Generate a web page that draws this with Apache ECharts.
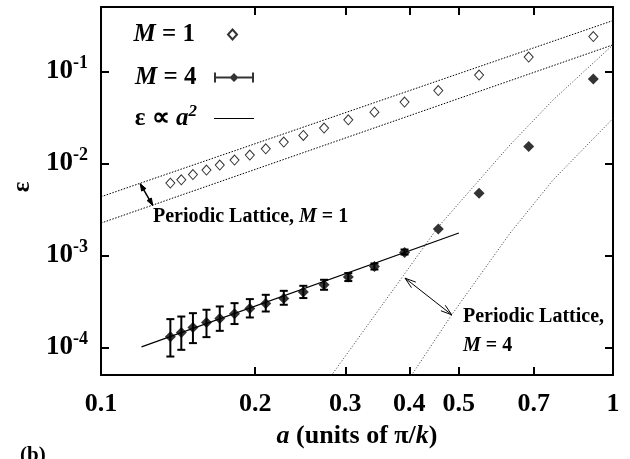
<!DOCTYPE html>
<html><head><meta charset="utf-8">
<script src="https://cdn.jsdelivr.net/npm/echarts@6/dist/echarts.min.js"></script>
<style>html,body{margin:0;padding:0;background:#fff}#c{width:630px;height:459px}</style>
</head><body><div id="c"></div>
<script>
// ---- data ----
const aValues = [0.1366,0.1435,0.1512,0.1607,0.1706,0.1823,0.1953,0.2098,0.2275,0.2484,0.2727,0.3041,0.3420,0.3916,0.4558,0.5476,0.6844,0.9153];
const epsM1 = [0.00609,0.00662,0.00755,0.00844,0.00956,0.01083,0.01228,0.01438,0.0170,0.02006,0.02415,0.0297,0.0360,0.0463,0.0618,0.0909,0.1427,0.2388];
const epsM4 = [1.30e-4,1.448e-4,1.641e-4,1.861e-4,2.056e-4,2.312e-4,2.64e-4,2.99e-4,3.39e-4,3.98e-4,4.78e-4,5.80e-4,7.55e-4,1.072e-3,1.927e-3,4.74e-3,1.522e-2,8.23e-2];
const epsM4Low = [7.94e-5,9.39e-5,1.111e-4,1.29e-4,1.51e-4,1.79e-4,2.11e-4,2.45e-4,2.90e-4,3.43e-4,4.22e-4,5.25e-4,7.01e-4,1.02e-3,1.927e-3,4.74e-3,1.522e-2,8.23e-2];
const epsM4High = [2.025e-4,2.16e-4,2.35e-4,2.56e-4,2.78e-4,3.02e-4,3.34e-4,3.72e-4,4.11e-4,4.66e-4,5.42e-4,6.41e-4,8.15e-4,1.156e-3,1.927e-3,4.74e-3,1.522e-2,8.23e-2];
const fitA = [0.12, 0.5];
const fitEps = [1.01e-4, 1.75e-3];
const latM1UpperA = [0.1, 1];
const latM1UpperEps = [4.33e-3, 0.356];
const latM1LowerA = [0.1, 1];
const latM1LowerEps = [2.24e-3, 0.194];
const latM4AA = [0.2815, 0.3893, 0.4558, 0.6295, 0.7643, 1.0];
const latM4AEps = [4.9e-5, 5.99e-4, 2.04e-3, 1.589e-2, 4.9e-2, 0.194];
const latM4BA = [0.4035, 0.4842, 0.6295, 0.7643, 1.0];
const latM4BEps = [4.9e-5, 2.256e-4, 1.743e-3, 6.62e-3, 0.0307];
const arrowM1 = [0.1193, 5.99e-3, 0.1262, 3.49e-3];
const arrowM4 = [0.3924, 5.65e-4, 0.4842, 2.256e-4];
const xTicks = [0.1, 0.2, 0.3, 0.4, 0.5, 0.7, 1];
const yTicks = [1e-4, 1e-3, 1e-2, 1e-1];
const xRange = [0.1, 1];
const yRange = [5e-5, 0.5];

const FONT = 'Liberation Serif';
const zip = (xs, ys) => xs.map((x, i) => [x, ys[i]]);

function renderErr(params, api) {
  const a = api.value(0), lo = api.value(1), hi = api.value(2);
  if (lo === hi) return null;
  const p1 = api.coord([a, lo]), p2 = api.coord([a, hi]);
  const hw = 4, st = {stroke: '#000', lineWidth: 2};
  return {type: 'group', children: [
    {type: 'line', shape: {x1: p1[0], y1: p1[1], x2: p2[0], y2: p2[1]}, style: st},
    {type: 'line', shape: {x1: p1[0]-hw, y1: p1[1], x2: p1[0]+hw, y2: p1[1]}, style: st},
    {type: 'line', shape: {x1: p2[0]-hw, y1: p2[1], x2: p2[0]+hw, y2: p2[1]}, style: st}
  ]};
}
function makeArrow(filled) {
  return function (params, api) {
    const p1 = api.coord([api.value(0), api.value(1)]);
    const p2 = api.coord([api.value(2), api.value(3)]);
    const head = (tip, from) => {
      const dx = from[0]-tip[0], dy = from[1]-tip[1], L = Math.hypot(dx, dy);
      const ux = dx/L, uy = dy/L, hl = filled ? 7 : 11, hw = filled ? 2.5 : 3.5;
      return [[tip[0]+ux*hl-uy*hw, tip[1]+uy*hl+ux*hw], tip, [tip[0]+ux*hl+uy*hw, tip[1]+uy*hl-ux*hw]];
    };
    const hs = filled ? {fill: '#000', stroke: '#000', lineWidth: 1} : {fill: null, stroke: '#000', lineWidth: 1};
    const t = filled ? 'polygon' : 'polyline';
    return {type: 'group', children: [
      {type: 'line', shape: {x1: p1[0], y1: p1[1], x2: p2[0], y2: p2[1]}, style: {stroke: '#000', lineWidth: filled ? 1.5 : 1}},
      {type: t, shape: {points: head(p1, p2)}, style: hs},
      {type: t, shape: {points: head(p2, p1)}, style: hs}
    ]};
  };
}

const chart = echarts.init(document.getElementById('c'), null, {renderer: 'canvas'});
const axisCommon = {
  axisLine: {show: true, lineStyle: {color: '#000', width: 2}},
  axisTick: {show: true, inside: true, length: 8, lineStyle: {color: '#000', width: 2}},
  splitLine: {show: false}
};
const LF = 25;
const legendText = {
  fontFamily: FONT, fontSize: LF, fontWeight: 'bold', color: '#000',
  rich: {
    i: {fontFamily: FONT, fontSize: LF, fontWeight: 'bold', fontStyle: 'italic', color: '#000'},
    n: {fontFamily: FONT, fontSize: LF, fontWeight: 'bold', color: '#000'},
    sup: {fontFamily: FONT, fontSize: 17, fontWeight: 'bold', fontStyle: 'italic', color: '#000', padding: [0, 0, 14, 0]},
    sp: {width: 12},
    sp2: {width: 28}
  }
};
const legendFmt = {
  'M = 1': '{i|M}{n| = 1}{sp2|}',
  'M = 4': '{i|M}{n| = 4}{sp|}',
  'fit': '{n|ε ∝ }{i|a}{sup|2}{sp|}'
};
function mkLegend(name, icon, w, h, top, right) {
  return {
    data: [{name: name, icon: icon}], orient: 'vertical', align: 'right',
    right: right, top: top, itemWidth: w, itemHeight: h, padding: 0,
    selectedMode: false, formatter: n => legendFmt[n], textStyle: legendText
  };
}
const labelRich = {
  b: {fontFamily: FONT, fontSize: 27, fontWeight: 'bold', color: '#000'},
  s: {fontFamily: FONT, fontSize: 18, fontWeight: 'bold', color: '#000', padding: [0, 0, 15, 0]}
};

chart.setOption({
  animation: false,
  backgroundColor: '#fff',
  grid: {left: 101, right: 17, top: 7, bottom: 84, outerBoundsMode: 'none', containLabel: false},
  xAxis: [
    Object.assign({}, axisCommon, {
      type: 'log', logBase: 10, min: xRange[0], max: xRange[1], position: 'bottom',
      axisTick: Object.assign({}, axisCommon.axisTick, {customValues: xTicks}),
      axisLabel: {customValues: xTicks, margin: 16, fontFamily: FONT, fontSize: 26, fontWeight: 'bold', color: '#000',
        formatter: v => String(parseFloat(Number(v).toPrecision(2)))},
      name: '{i|a} (units of π/{i|k})', nameLocation: 'middle', nameGap: 48,
      nameTextStyle: {fontFamily: FONT, fontSize: 26, fontWeight: 'bold', color: '#000',
        rich: {i: {fontFamily: FONT, fontSize: 26, fontWeight: 'bold', fontStyle: 'italic', color: '#000'}}}
    }),
    Object.assign({}, axisCommon, {
      type: 'log', logBase: 10, min: xRange[0], max: xRange[1], position: 'top',
      axisTick: Object.assign({}, axisCommon.axisTick, {customValues: xTicks}),
      axisLabel: {show: false}
    })
  ],
  yAxis: [
    Object.assign({}, axisCommon, {
      type: 'log', logBase: 10, min: yRange[0], max: yRange[1], position: 'left',
      axisTick: Object.assign({}, axisCommon.axisTick, {customValues: yTicks}),
      axisLabel: {customValues: yTicks, margin: 13, color: '#000',
        formatter: v => '{b|10}{s|' + Math.round(Math.log10(v)) + '}',
        rich: labelRich},
      name: 'ε', nameLocation: 'middle', nameRotate: 90, nameGap: 64,
      nameTextStyle: {fontFamily: FONT, fontSize: 25, fontWeight: 'bold', color: '#000', padding: [0, 0, 0, 8]}
    }),
    Object.assign({}, axisCommon, {
      type: 'log', logBase: 10, min: yRange[0], max: yRange[1], position: 'right',
      axisTick: Object.assign({}, axisCommon.axisTick, {customValues: yTicks}),
      axisLabel: {show: false}
    })
  ],
  legend: [
    mkLegend('M = 1', 'diamond', 9, 10, 22, 630 - 238),
    mkLegend('M = 4', 'path://M0,0 h2 v10 h-2 Z M2,4 h36 v2 h-36 Z M38,0 h2 v10 h-2 Z M20,0.5 L24.5,5 L20,9.5 L15.5,5 Z', 41, 10, 65, 630 - 254),
    mkLegend('fit', 'rect', 40, 1, 103, 630 - 254)
  ],
  graphic: [
    {type: 'text', left: 153, top: 207, style: {text: '{n|Periodic Lattice, }{i|M}{n| = 1}',
      rich: {n: {fontFamily: FONT, fontSize: 20, fontWeight: 'bold', fill: '#000'},
             i: {fontFamily: FONT, fontSize: 20, fontWeight: 'bold', fontStyle: 'italic', fill: '#000'}}}},
    {type: 'text', left: 463, top: 307, style: {text: '{n|Periodic Lattice,}',
      rich: {n: {fontFamily: FONT, fontSize: 20, fontWeight: 'bold', fill: '#000'}}}},
    {type: 'text', left: 463, top: 336, style: {text: '{i|M}{n| = 4}',
      rich: {n: {fontFamily: FONT, fontSize: 20, fontWeight: 'bold', fill: '#000'},
             i: {fontFamily: FONT, fontSize: 20, fontWeight: 'bold', fontStyle: 'italic', fill: '#000'}}}},
    {type: 'text', left: 20, top: 445, style: {text: '(b)', font: 'bold 21px "Liberation Serif"', fill: '#000'}}
  ],
  series: [
    {name: 'latM1U', type: 'line', data: zip(latM1UpperA, latM1UpperEps), symbol: 'none', silent: true,
      lineStyle: {color: '#000', width: 1, type: [1.5, 1.5]}},
    {name: 'latM1L', type: 'line', data: zip(latM1LowerA, latM1LowerEps), symbol: 'none', silent: true,
      lineStyle: {color: '#000', width: 1, type: [1.5, 1.5]}},
    {name: 'latM4A', type: 'line', data: zip(latM4AA, latM4AEps), symbol: 'none', silent: true,
      lineStyle: {color: '#333', width: 1, type: [1, 2]}},
    {name: 'latM4B', type: 'line', data: zip(latM4BA, latM4BEps), symbol: 'none', silent: true,
      lineStyle: {color: '#333', width: 1, type: [1, 2]}},
    {name: 'fit', type: 'line', data: zip(fitA, fitEps), symbol: 'none', silent: true,
      itemStyle: {color: '#000'}, lineStyle: {color: '#000', width: 1.2}},
    {name: 'errM4', type: 'custom', renderItem: renderErr, silent: true,
      encode: {x: 0, y: [1, 2]}, data: aValues.map((a, i) => [a, epsM4Low[i], epsM4High[i]])},
    {name: 'M = 1', type: 'scatter', data: zip(aValues, epsM1), symbol: 'diamond', symbolSize: [9, 10], silent: true,
      itemStyle: {color: '#fff', borderColor: '#000', borderWidth: 1}},
    {name: 'M = 4', type: 'scatter', data: zip(aValues, epsM4), symbol: 'diamond', symbolSize: 11, silent: true,
      itemStyle: {color: '#000'}},
    {name: 'arrowM1', type: 'custom', renderItem: makeArrow(true), silent: true,
      encode: {x: [0, 2], y: [1, 3]}, data: [arrowM1]},
    {name: 'arrowM4', type: 'custom', renderItem: makeArrow(false), silent: true,
      encode: {x: [0, 2], y: [1, 3]}, data: [arrowM4]}
  ]
});
</script></body></html>
